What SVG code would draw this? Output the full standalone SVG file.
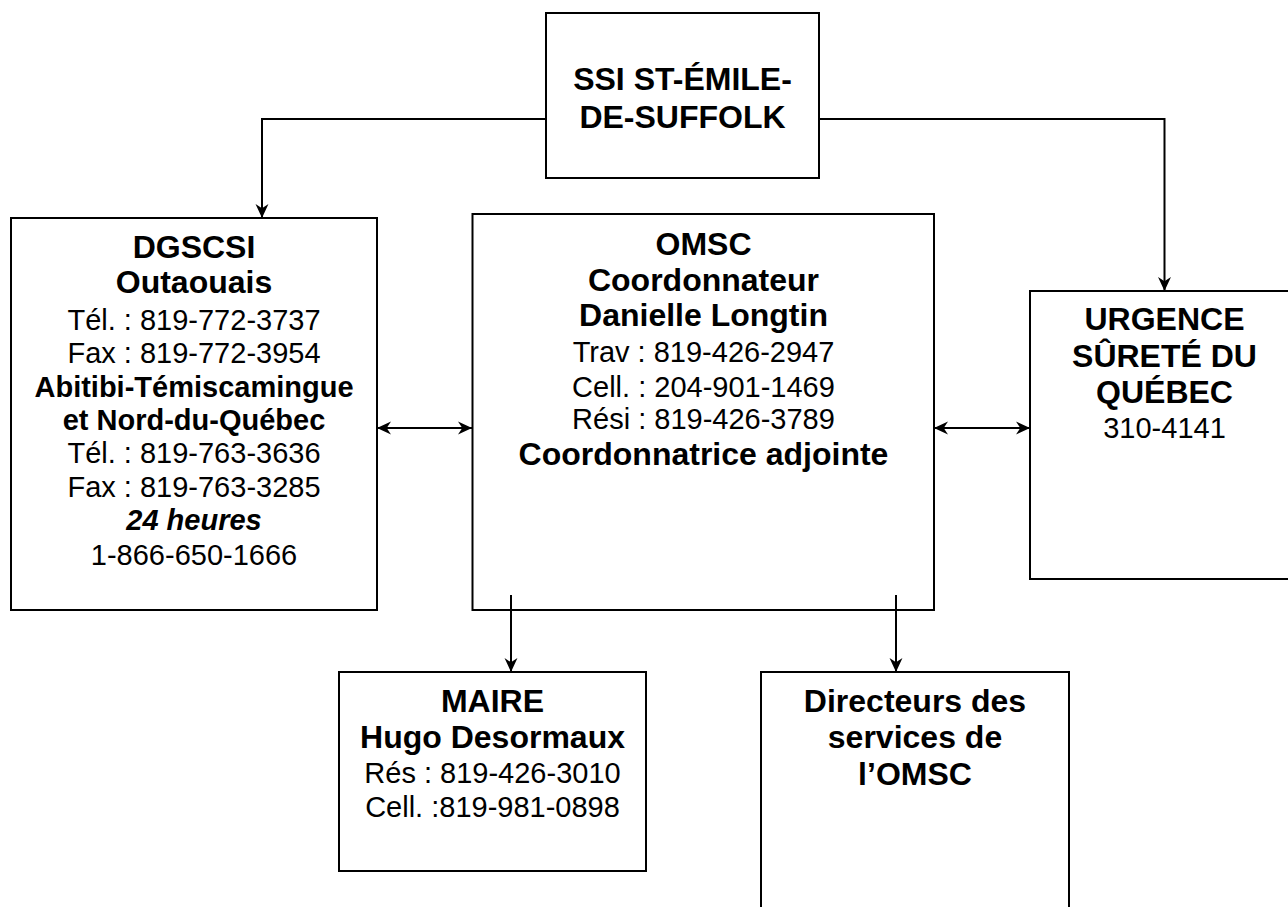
<svg xmlns="http://www.w3.org/2000/svg" width="1288" height="907" viewBox="0 0 1288 907">
<defs>
<style>
.box{fill:#fff;stroke:#000;stroke-width:2}
.con{fill:none;stroke:#000;stroke-width:2}
text{font-family:"Liberation Sans",Arial,sans-serif;fill:#000;text-anchor:middle}
.h{font-weight:bold;font-size:32px}
.b{font-weight:bold;font-size:29px}
.r{font-size:29px}
.bi{font-weight:bold;font-style:italic;font-size:29px}
</style>
<marker id="arr" markerUnits="userSpaceOnUse" markerWidth="14" markerHeight="14" viewBox="0 0 13 12" refX="13" refY="6" orient="auto-start-reverse">
<path d="M0,0 L13,6 L0,12 L4,6 z" fill="#000"/>
</marker>
</defs>
<rect width="1288" height="907" fill="#fff"/>
<g id="ssi">
<rect class="box" x="546" y="13" width="273" height="165"/>
<text class="h" x="682.5" y="90">SSI ST-ÉMILE-</text>
<text class="h" x="682.5" y="128">DE-SUFFOLK</text>
</g>
<g id="dgscsi">
<rect class="box" x="11" y="218" width="366" height="392"/>
<text class="h" x="194" y="258">DGSCSI</text>
<text class="h" x="194" y="293">Outaouais</text>
<text class="r" x="194" y="330">Tél. : 819-772-3737</text>
<text class="r" x="194" y="363">Fax : 819-772-3954</text>
<text class="b" x="194" y="397">Abitibi-Témiscamingue</text>
<text class="b" x="194" y="430">et Nord-du-Québec</text>
<text class="r" x="194" y="463">Tél. : 819-763-3636</text>
<text class="r" x="194" y="497">Fax : 819-763-3285</text>
<text class="bi" x="194" y="530">24 heures</text>
<text class="r" x="194" y="565">1-866-650-1666</text>
</g>
<g id="omsc">
<rect class="box" x="472.5" y="214" width="461.5" height="396"/>
<text class="h" x="703.5" y="255">OMSC</text>
<text class="h" x="703.5" y="291">Coordonnateur</text>
<text class="h" x="703.5" y="326">Danielle Longtin</text>
<text class="r" x="703.5" y="362">Trav : 819-426-2947</text>
<text class="r" x="703.5" y="396.5">Cell. : 204-901-1469</text>
<text class="r" x="703.5" y="429">Rési : 819-426-3789</text>
<text class="h" x="703.5" y="465">Coordonnatrice adjointe</text>
</g>
<g id="urgence">
<rect class="box" x="1030" y="291" width="270" height="288"/>
<text class="h" x="1164.5" y="330">URGENCE</text>
<text class="h" x="1164.5" y="366.5">SÛRETÉ DU</text>
<text class="h" x="1164.5" y="403">QUÉBEC</text>
<text class="r" x="1164.5" y="438">310-4141</text>
</g>
<g id="maire">
<rect class="box" x="339" y="672" width="307" height="199"/>
<text class="h" x="492.5" y="711.5">MAIRE</text>
<text class="h" x="492.5" y="748">Hugo Desormaux</text>
<text class="r" x="492.5" y="782.5">Rés : 819-426-3010</text>
<text class="r" x="492.5" y="816.5">Cell. :819-981-0898</text>
</g>
<g id="directeurs">
<rect class="box" x="761" y="672" width="308" height="260"/>
<text class="h" x="915" y="711.5">Directeurs des</text>
<text class="h" x="915" y="748">services de</text>
<text class="h" x="915" y="785">l’OMSC</text>
</g>
<g id="connectors">
<polyline class="con" points="546,119 262,119 262,218" marker-end="url(#arr)"/>
<polyline class="con" points="819,119 1164.5,119 1164.5,291" marker-end="url(#arr)"/>
<line class="con" x1="377" y1="428" x2="472" y2="428" marker-start="url(#arr)" marker-end="url(#arr)"/>
<line class="con" x1="934" y1="428" x2="1030" y2="428" marker-start="url(#arr)" marker-end="url(#arr)"/>
<line class="con" x1="511" y1="595" x2="511" y2="672" marker-end="url(#arr)"/>
<line class="con" x1="896" y1="595" x2="896" y2="672" marker-end="url(#arr)"/>
</g>
</svg>
